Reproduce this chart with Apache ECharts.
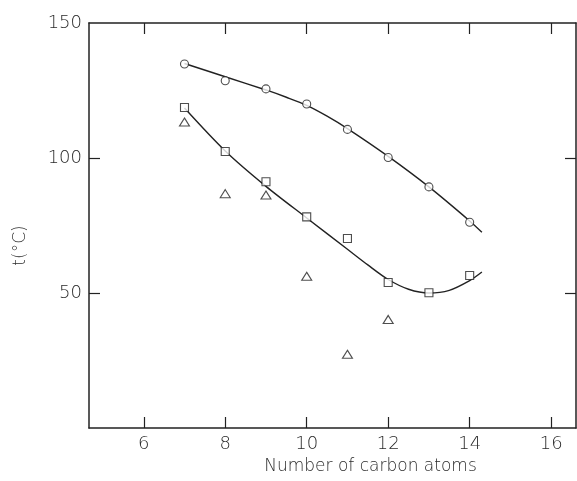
<!DOCTYPE html>
<html>
<head>
<meta charset="utf-8">
<script src="https://cdn.jsdelivr.net/npm/echarts@6/dist/echarts.min.js"></script>
<style>
  html, body { margin: 0; padding: 0; background: #fff; }
  #chart { width: 577px; height: 481px; }
</style>
</head>
<body>
<div id="chart"></div>
<script>
// measured points
const carbonX = [7, 8, 9, 10, 11, 12, 13, 14];
const circleT = [134.8, 128.6, 125.6, 120.0, 110.6, 100.2, 89.3, 76.2];
const squareT = [118.7, 102.4, 91.2, 78.2, 70.2, 53.9, 50.1, 56.5];
const triangleX = [7, 8, 9, 10, 11, 12];
const triangleT = [113.3, 86.8, 86.3, 56.2, 27.3, 40.2];

// fitted curves
const upperCurveX = [7, 8, 9, 9.5, 10, 10.5, 11, 12, 13, 14, 14.3];
const upperCurveT = [135, 130.1, 125.2, 122.5, 119.5, 115.5, 110.9, 100.6, 89.3, 76.7, 72.5];
const lowerCurveX = [7, 8, 9, 10, 11, 11.5, 12, 12.5, 13, 13.5, 14, 14.3];
const lowerCurveT = [118.5, 102.6, 89.5, 77.8, 66.2, 60.4, 55.0, 51.4, 50.0, 51.0, 54.6, 57.8];

const xTicks = [6, 8, 10, 12, 14, 16];
const yTicks = [50, 100, 150];

const zip = (xs, ys) => xs.map((x, i) => [x, ys[i]]);

const ink = '#222';
const textColor = '#2a2a2a';
const font = 'DejaVu Sans';

const chart = echarts.init(document.getElementById('chart'));

const lineStyleAxis = { color: ink, width: 1.5 };
const labelStyle = { fontFamily: font, fontWeight: 200, fontSize: 18, color: textColor };

chart.setOption({
  animation: false,
  backgroundColor: '#fff',
  grid: { left: 89, right: 1, top: 23, bottom: 53, containLabel: false },
  xAxis: [
    {
      type: 'value',
      min: 4.656,
      max: 16.61,
      name: 'Number of carbon atoms',
      nameLocation: 'middle',
      nameGap: 30,
      nameTextStyle: { fontFamily: font, fontWeight: 200, fontSize: 17, color: textColor, padding: [0, 0, 0, 76] },
      axisLine: { onZero: false, lineStyle: lineStyleAxis },
      axisTick: { inside: true, length: 11, customValues: xTicks, lineStyle: { color: ink, width: 1.2 } },
      axisLabel: Object.assign({ customValues: xTicks, margin: 7 }, labelStyle),
      splitLine: { show: false }
    },
    {
      type: 'value',
      position: 'top',
      min: 4.656,
      max: 16.61,
      axisLine: { onZero: false, lineStyle: lineStyleAxis },
      axisTick: { inside: true, length: 11, customValues: xTicks, lineStyle: { color: ink, width: 1.2 } },
      axisLabel: { show: false },
      splitLine: { show: false }
    }
  ],
  yAxis: [
    {
      type: 'value',
      min: 0,
      max: 150,
      interval: 50,
      name: 't(°C)',
      nameLocation: 'middle',
      nameGap: 60,
      nameTextStyle: { fontFamily: font, fontWeight: 200, fontSize: 17, color: textColor, padding: [0, 40, 0, 0] },
      axisLine: { show: true, onZero: false, lineStyle: lineStyleAxis },
      axisTick: { inside: true, length: 11, customValues: [50, 100], lineStyle: { color: ink, width: 1.2 } },
      axisLabel: Object.assign({ customValues: yTicks, margin: 7 }, labelStyle),
      splitLine: { show: false }
    },
    {
      type: 'value',
      position: 'right',
      min: 0,
      max: 150,
      interval: 50,
      axisLine: { show: true, onZero: false, lineStyle: lineStyleAxis },
      axisTick: { inside: true, length: 11, customValues: [50, 100], lineStyle: { color: ink, width: 1.2 } },
      axisLabel: { show: false },
      splitLine: { show: false }
    }
  ],
  series: [
    {
      type: 'line',
      data: zip(upperCurveX, upperCurveT),
      smooth: 0.3,
      showSymbol: false,
      lineStyle: { color: ink, width: 1.4 },
      z: 2
    },
    {
      type: 'line',
      data: zip(lowerCurveX, lowerCurveT),
      smooth: 0.3,
      showSymbol: false,
      lineStyle: { color: ink, width: 1.4 },
      z: 2
    },
    {
      type: 'scatter',
      data: zip(carbonX, circleT),
      symbol: 'circle',
      symbolSize: 8,
      itemStyle: { color: '#fff', borderColor: ink, borderWidth: 1.1 },
      z: 3
    },
    {
      type: 'scatter',
      data: zip(carbonX, squareT),
      symbol: 'rect',
      symbolSize: 8,
      itemStyle: { color: '#fff', borderColor: ink, borderWidth: 1.1 },
      z: 3
    },
    {
      type: 'scatter',
      data: zip(triangleX, triangleT),
      symbol: 'triangle',
      symbolSize: [10, 8],
      itemStyle: { color: '#fff', borderColor: ink, borderWidth: 1.1 },
      z: 3
    }
  ]
});
</script>
</body>
</html>
